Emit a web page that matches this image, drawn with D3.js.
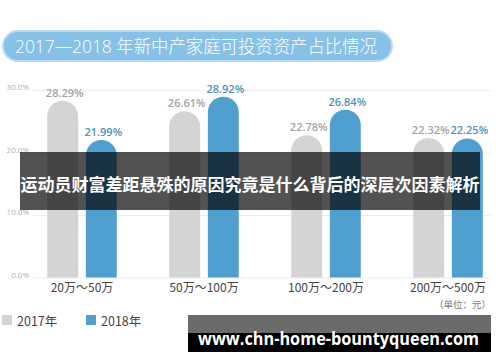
<!DOCTYPE html>
<html>
<head>
<meta charset="utf-8">
<script src="https://cdn.jsdelivr.net/npm/d3@7"></script>
<style>
  body { margin: 0; background: #fff; }
  svg { display: block; font-family: "Open Sans", "Noto Sans CJK SC", sans-serif; }
</style>
</head>
<body>
<svg id="chart" width="500" height="362"></svg>
<script>
var title = "2017—2018 年新中产家庭可投资资产占比情况";
var categories = ["20万～50万", "50万～100万", "100万～200万", "200万～500万"];
var years = ["2017年", "2018年"];
var values2017 = [28.29, 26.61, 22.78, 22.32];
var values2018 = [21.99, 28.92, 26.84, 22.25];
var yTicks = [0, 10, 20, 30];
var unitLabel = "（单位：元）";
var bannerText = "运动员财富差距悬殊的原因究竟是什么背后的深层次因素解析";
var watermark = "www.chn-home-bountyqueen.com";

var colors = { "2017年": "#d4d4d6", "2018年": "#4f9fd0" };
var labelColors = { "2017年": "#a3a3a3", "2018年": "#4a93bd" };

var svg = d3.select("#chart");

// title pill
svg.append("rect")
    .attr("x", 3).attr("y", 31).attr("width", 389).attr("height", 30)
    .attr("rx", 15).attr("fill", "#86c1e8")
    .attr("stroke", "#b9dcf3").attr("stroke-width", 2);
svg.append("text")
    .attr("x", 15).attr("y", 53)
    .attr("fill", "#fff").attr("font-size", 18).attr("font-weight", 300)
    .attr("textLength", 362).attr("lengthAdjust", "spacingAndGlyphs")
    .text(title);

var y = d3.scaleLinear().domain([0, 30]).range([277.5, 90]);
var x0 = d3.scaleBand().domain(categories).range([21, 509]).paddingInner(0.43).paddingOuter(0.215);
var x1 = d3.scaleBand().domain(years).range([0, x0.bandwidth()]).paddingInner(0.2);

// grid + y labels
var yAxis = d3.axisLeft(y).tickValues(yTicks).tickSize(-457).tickPadding(4)
    .tickFormat(function(d) { return d.toFixed(1) + "%"; });
var gy = svg.append("g").attr("transform", "translate(33,0)").call(yAxis);
gy.select(".domain").remove();
gy.selectAll(".tick line").attr("stroke", "#ececec");
gy.selectAll(".tick text").attr("fill", "#b0b0b0").attr("font-size", 8).attr("dy", "-0.05em")
    .attr("font-family", "\"Open Sans\", sans-serif");

var data = categories.map(function(c, i) {
  return { cat: c, vals: [{ year: years[0], v: values2017[i] }, { year: years[1], v: values2018[i] }] };
});

function barPath(d) {
  var w = x1.bandwidth(), r = w / 2;
  var bx = x1(d.year), top = y(d.v), base = y(0);
  return "M" + bx + "," + base + "L" + bx + "," + (top + r) +
    "A" + r + "," + r + " 0 0 1 " + (bx + w) + "," + (top + r) +
    "L" + (bx + w) + "," + base + "Z";
}

var groups = svg.selectAll("g.grp").data(data).enter().append("g")
    .attr("class", "grp")
    .attr("transform", function(d) { return "translate(" + x0(d.cat) + ",0)"; });

groups.selectAll("path").data(function(d) { return d.vals; }).enter().append("path")
    .attr("d", barPath)
    .attr("fill", function(d) { return colors[d.year]; });

groups.selectAll("text.val").data(function(d) { return d.vals; }).enter().append("text")
    .attr("class", "val")
    .attr("x", function(d) { return x1(d.year) + x1.bandwidth() / 2 + 2; })
    .attr("y", function(d) { return y(d.v) - 4; })
    .attr("text-anchor", "middle").attr("font-size", 11).attr("font-weight", 600)
    .attr("fill", function(d) { return labelColors[d.year]; })
    .text(function(d) { return d.v.toFixed(2) + "%"; });

// category labels
var xAxis = d3.axisBottom(x0).tickSize(0).tickPadding(6);
var gx = svg.append("g").attr("transform", "translate(0," + y(0) + ")").call(xAxis);
gx.select(".domain").remove();
gx.selectAll(".tick text").attr("fill", "#444").attr("font-size", 12)
    .attr("font-family", "\"Noto Sans CJK SC\", sans-serif");

svg.append("text")
    .attr("x", 491).attr("y", 308).attr("text-anchor", "end")
    .attr("fill", "#777").attr("font-size", 9.5)
    .attr("font-family", "\"Noto Sans CJK SC\", sans-serif")
    .text(unitLabel);

// legend
var legend = svg.selectAll("g.leg").data(years).enter().append("g")
    .attr("class", "leg")
    .attr("transform", function(d, i) { return "translate(" + (2 + i * 84) + ",315)"; });
legend.append("rect").attr("width", 10).attr("height", 10)
    .attr("fill", function(d) { return colors[d]; });
legend.append("text").attr("x", 15).attr("y", 10.5)
    .attr("fill", "#444").attr("font-size", 12.5)
    .attr("font-family", "\"Noto Sans CJK SC\", sans-serif")
    .text(function(d) { return d; });

// overlay banner
svg.append("rect")
    .attr("x", 20).attr("y", 152).attr("width", 460).attr("height", 58)
    .attr("fill", "rgba(0,0,0,0.68)");
svg.append("text")
    .attr("x", 250).attr("y", 191).attr("text-anchor", "middle")
    .attr("fill", "#fff").attr("font-size", 17).attr("font-weight", 700)
    .attr("font-family", "\"Noto Sans CJK SC\", sans-serif")
    .text(bannerText);

// watermark box
svg.append("rect").attr("x", 188).attr("y", 315).attr("width", 303).attr("height", 18).attr("fill", "#6b6b6b");
svg.append("rect").attr("x", 188).attr("y", 333).attr("width", 303).attr("height", 19).attr("fill", "#000");
svg.append("text")
    .attr("x", 198).attr("y", 345)
    .attr("fill", "#fff").attr("font-size", 17).attr("font-weight", 700)
    .attr("textLength", 281).attr("lengthAdjust", "spacingAndGlyphs")
    .attr("font-family", "\"Open Sans\", \"DejaVu Sans\", sans-serif")
    .text(watermark);
</script>
</body>
</html>
